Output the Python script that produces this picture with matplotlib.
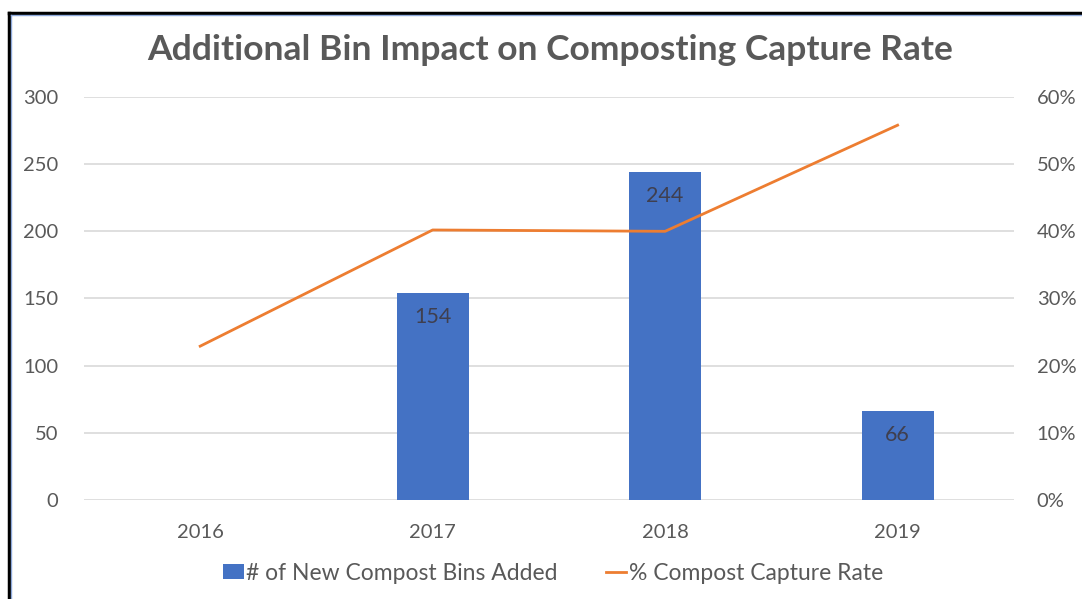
import matplotlib.pyplot as plt
from matplotlib.ticker import PercentFormatter
from matplotlib.lines import Line2D

# Data
years = ["2016", "2017", "2018", "2019"]
bins_added = [0, 154, 244, 66]
capture_rate = [22.9, 40.2, 40.0, 55.8]

bar_color = "#4472C4"
line_color = "#ED7D31"
text_color = "#595959"
grid_color = "#D9D9D9"

plt.rcParams["font.family"] = ["Lato", "DejaVu Sans"]

fig = plt.figure(figsize=(10.82, 5.99), dpi=100)
ax = fig.add_axes([0.0776, 0.1653, 0.8594, 0.6728])
ax2 = ax.twinx()

x = list(range(len(years)))

# Bars (skip the empty 2016 value)
bx = [i for i, v in zip(x, bins_added) if v > 0]
bv = [v for v in bins_added if v > 0]
bars = ax.bar(bx, bv, width=0.31, color=bar_color, zorder=2,
              label="# of New Compost Bins Added")
for rect, v in zip(bars, bv):
    ax.annotate(str(v), (rect.get_x() + rect.get_width() / 2, v),
                xytext=(0, -17), textcoords="offset points",
                ha="center", va="center", fontsize=15.5, color="#3F3F4F")

ax2.plot(x, capture_rate, color=line_color, lw=2.0, zorder=3,
         label="% Compost Capture Rate")

# Axes styling
ax.set_xlim(-0.5, 3.5)
ax.set_ylim(0, 300)
ax.set_yticks(range(0, 301, 50))
ax2.set_ylim(0, 60)
ax2.set_yticks(range(0, 61, 10))
ax2.yaxis.set_major_formatter(PercentFormatter(decimals=0))
ax.set_xticks(x)
ax.set_xticklabels(years)
ax.grid(axis="y", color=grid_color, lw=1.2, zorder=0)
ax.set_axisbelow(True)

for a in (ax, ax2):
    for s in a.spines.values():
        s.set_visible(False)
ax.tick_params(axis="both", length=0, colors=text_color, labelsize=14.5)
ax.tick_params(axis="y", pad=18.5)
ax.tick_params(axis="x", pad=17)
ax2.tick_params(axis="y", length=0, colors=text_color, labelsize=14.5, pad=16.5)

fig.text(550 / 1082, 1 - 50 / 599, "Additional Bin Impact on Composting Capture Rate",
         ha="center", va="center", fontsize=25.5, fontweight="bold",
         color=text_color)

handles = [bars, Line2D([0], [0], color=line_color, lw=2.0)]
fig.legend(handles, ["# of New Compost Bins Added", "% Compost Capture Rate"],
           loc="center", bbox_to_anchor=(553 / 1082, 1 - 573 / 599), ncol=2,
           frameon=False, fontsize=16.5, labelcolor=text_color,
           handlelength=0.9, handleheight=0.6, handletextpad=0.1,
           columnspacing=2.1)

# Frame at top and left edge
fig.add_artist(Line2D([9 / 1082, 1], [1 - 13 / 599] * 2, color="black", lw=2.5))
fig.add_artist(Line2D([9 / 1082] * 2, [0, 1 - 13 / 599], color="black", lw=2.5))
fig.add_artist(Line2D([11 / 1082, 1], [1 - 15 / 599] * 2, color="#8EA9DB", lw=1))
fig.add_artist(Line2D([11 / 1082] * 2, [0, 1 - 15 / 599], color="#8EA9DB", lw=1))

fig.savefig("out.png", dpi=100)
